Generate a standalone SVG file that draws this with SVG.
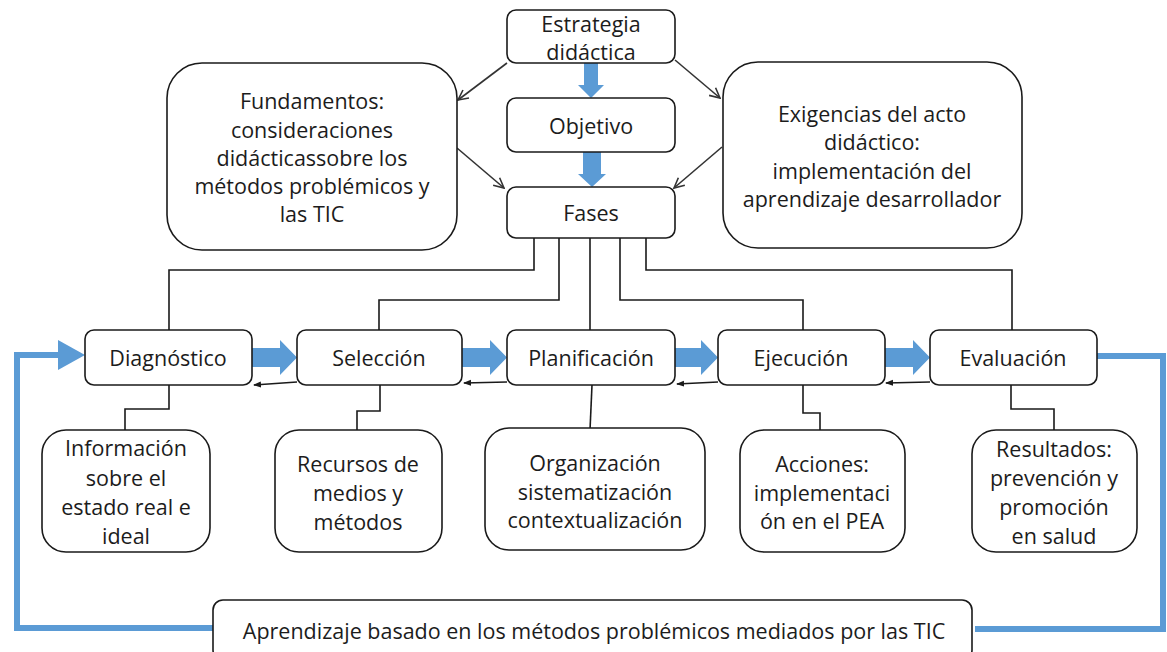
<svg xmlns="http://www.w3.org/2000/svg" width="1167" height="652" viewBox="0 0 1167 652">
<defs>
<style>
.box{fill:#fff;stroke:#1a1a1a;stroke-width:1.6}
.t{font-family:"Open Sans","Liberation Sans",sans-serif;font-size:21.5px;fill:#1c1c1c;text-anchor:middle;dominant-baseline:central}
.ln{fill:none;stroke:#1a1a1a;stroke-width:1.6}
.ar{fill:none;stroke:#333;stroke-width:1.6}
.blue{fill:#5B9BD5}
.loop{fill:none;stroke:#5B9BD5;stroke-width:6}
</style>
<marker id="open" viewBox="0 0 12 12" refX="11" refY="6" markerWidth="12" markerHeight="12" markerUnits="userSpaceOnUse" orient="auto">
<path d="M1,1 L11,6 L1,11" fill="none" stroke="#333" stroke-width="1.6"/>
</marker>
<marker id="small" viewBox="0 0 8 8" refX="7" refY="4" markerWidth="8" markerHeight="8" markerUnits="userSpaceOnUse" orient="auto">
<path d="M0,1 L8,4 L0,7 Z" fill="#1a1a1a"/>
</marker>
</defs>
<rect width="1167" height="652" fill="#fff"/>

<g id="connectors">
<line class="ar" x1="507" y1="63" x2="458" y2="100" marker-end="url(#open)"/>
<line class="ar" x1="457" y1="148" x2="504" y2="188" marker-end="url(#open)"/>
<line class="ar" x1="675" y1="60" x2="720" y2="98" marker-end="url(#open)"/>
<line class="ar" x1="722" y1="147" x2="674" y2="188" marker-end="url(#open)"/>
<polygon class="blue" points="584,63 598,63 598,85 604,85 591,98 578,85 584,85"/>
<polygon class="blue" points="583,152 601,152 601,174 606,174 592,187 578,174 583,174"/>
<polyline class="ln" points="534,238 534,270 169,270 169,330"/>
<polyline class="ln" points="559,238 559,300 379,300 379,330"/>
<polyline class="ln" points="590,238 590,330"/>
<polyline class="ln" points="620,238 620,300 803,300 803,330"/>
<polyline class="ln" points="646,238 646,270 1012,270 1012,330"/>
<polygon class="blue" points="252,348 280,348 280,340 297,357.5 280,375 280,367 252,367"/>
<polygon class="blue" points="462,348 490,348 490,340 507,357.5 490,375 490,367 462,367"/>
<polygon class="blue" points="675,348 701,348 701,340 718,357.5 701,375 701,367 675,367"/>
<polygon class="blue" points="885,348 913,348 913,340 930,357.5 913,375 913,367 885,367"/>
<line class="ln" x1="297" y1="382" x2="254" y2="385" marker-end="url(#small)"/>
<line class="ln" x1="507" y1="382" x2="464" y2="383" marker-end="url(#small)"/>
<line class="ln" x1="718" y1="382" x2="677" y2="384" marker-end="url(#small)"/>
<line class="ln" x1="930" y1="382" x2="886" y2="383" marker-end="url(#small)"/>
<polyline class="ln" points="169,385 169,409 125,409 125,430"/>
<polyline class="ln" points="380,385 380,411 357,411 357,430"/>
<polyline class="ln" points="592,385 590,430"/>
<polyline class="ln" points="803,385 803,413 820,413 820,430"/>
<polyline class="ln" points="1011,385 1011,409 1054,409 1054,430"/>
<polyline class="loop" points="1097,356 1163,356 1163,629 975,629"/>
<polyline class="loop" points="213,628 17,628 17,355 62,355"/>
<polygon class="blue" points="58,340 85,355 58,370"/>
</g>

<g id="estrategia">
<rect class="box" x="507" y="10" width="168" height="53" rx="9"/>
<text class="t" x="591" y="23">Estrategia</text>
<text class="t" x="591" y="51">didáctica</text>
</g>
<g id="objetivo">
<rect class="box" x="507" y="98" width="168" height="54" rx="9"/>
<text class="t" x="591" y="125">Objetivo</text>
</g>
<g id="fases">
<rect class="box" x="507" y="187" width="168" height="51" rx="9"/>
<text class="t" x="591" y="212">Fases</text>
</g>
<g id="fundamentos">
<rect class="box" x="167" y="63" width="290" height="187" rx="35"/>
<text class="t" x="312" y="100">Fundamentos:</text>
<text class="t" x="312" y="129">consideraciones</text>
<text class="t" x="312" y="157">didácticassobre los</text>
<text class="t" x="312" y="185">métodos problémicos y</text>
<text class="t" x="312" y="213">las TIC</text>
</g>
<g id="exigencias">
<rect class="box" x="723" y="62" width="299" height="186" rx="35"/>
<text class="t" x="872" y="113">Exigencias del acto</text>
<text class="t" x="872" y="141">didáctico:</text>
<text class="t" x="872" y="170">implementación del</text>
<text class="t" x="872" y="198">aprendizaje desarrollador</text>
</g>

<g id="diagnostico">
<rect class="box" x="85" y="330" width="167" height="55" rx="9"/>
<text class="t" x="168" y="357">Diagnóstico</text>
</g>
<g id="seleccion">
<rect class="box" x="297" y="330" width="165" height="55" rx="9"/>
<text class="t" x="379" y="357">Selección</text>
</g>
<g id="planificacion">
<rect class="box" x="507" y="330" width="168" height="55" rx="9"/>
<text class="t" x="591" y="357">Planificación</text>
</g>
<g id="ejecucion">
<rect class="box" x="718" y="330" width="167" height="55" rx="9"/>
<text class="t" x="801" y="357">Ejecución</text>
</g>
<g id="evaluacion">
<rect class="box" x="930" y="330" width="167" height="55" rx="9"/>
<text class="t" x="1013" y="357">Evaluación</text>
</g>

<g id="informacion">
<rect class="box" x="42" y="430" width="168" height="122" rx="24"/>
<text class="t" x="126" y="447">Información</text>
<text class="t" x="126" y="477">sobre el</text>
<text class="t" x="126" y="506">estado real e</text>
<text class="t" x="126" y="535">ideal</text>
</g>
<g id="recursos">
<rect class="box" x="275" y="430" width="167" height="122" rx="24"/>
<text class="t" x="358" y="463">Recursos de</text>
<text class="t" x="358" y="492">medios y</text>
<text class="t" x="358" y="521">métodos</text>
</g>
<g id="organizacion">
<rect class="box" x="485" y="428" width="220" height="122" rx="24"/>
<text class="t" x="595" y="462">Organización</text>
<text class="t" x="595" y="491">sistematización</text>
<text class="t" x="595" y="519">contextualización</text>
</g>
<g id="acciones">
<rect class="box" x="740" y="430" width="165" height="122" rx="24"/>
<text class="t" x="822" y="463">Acciones:</text>
<text class="t" x="822" y="492">implementaci</text>
<text class="t" x="822" y="520">ón en el PEA</text>
</g>
<g id="resultados">
<rect class="box" x="972" y="430" width="165" height="122" rx="24"/>
<text class="t" x="1054" y="448">Resultados:</text>
<text class="t" x="1054" y="477">prevención y</text>
<text class="t" x="1054" y="506">promoción</text>
<text class="t" x="1054" y="535">en salud</text>
</g>
<g id="aprendizaje">
<rect class="box" x="213" y="600" width="759" height="60" rx="10"/>
<text class="t" x="594" y="630">Aprendizaje basado en los métodos problémicos mediados por las TIC</text>
</g>
</svg>
